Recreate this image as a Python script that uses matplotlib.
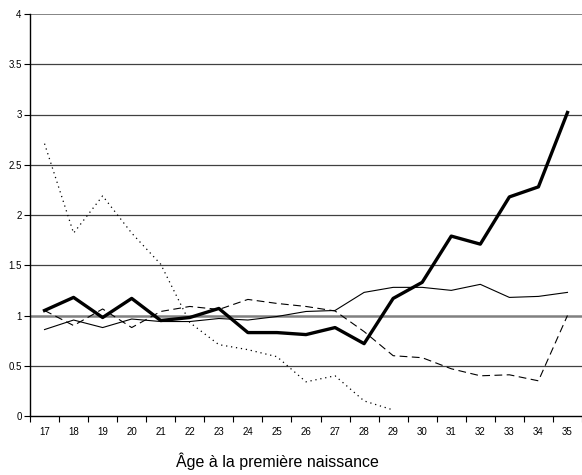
import numpy as np
import matplotlib.pyplot as plt
from matplotlib.ticker import FixedLocator

plt.rcParams['font.family'] = ['Liberation Sans', 'DejaVu Sans']

ages = list(range(17, 36))
thick = [1.05, 1.18, 0.98, 1.17, 0.95, 0.98, 1.07, 0.83, 0.83, 0.81, 0.88, 0.72,
         1.17, 1.33, 1.79, 1.71, 2.18, 2.28, 3.02]
thin = [0.86, 0.955, 0.88, 0.965, 0.94, 0.94, 0.97, 0.955, 0.99, 1.04, 1.05, 1.23,
        1.28, 1.28, 1.25, 1.31, 1.18, 1.19, 1.23]
dashed = [1.05, 0.90, 1.065, 0.88, 1.04, 1.09, 1.06, 1.16, 1.12, 1.09, 1.045, 0.84,
          0.60, 0.58, 0.47, 0.40, 0.41, 0.35, 1.00]
dotted_ages = list(range(17, 30))
dotted = [2.71, 1.82, 2.19, 1.82, 1.51, 0.93, 0.71, 0.66, 0.59, 0.34, 0.40, 0.15, 0.06]

fig = plt.figure(figsize=(5.82, 4.75), dpi=100)
ax = fig.add_axes([30/582, 1-416/475, 552/582, 402/475])

# horizontal grid
for y in np.arange(0.5, 4.01, 0.5):
    if y == 1:
        ax.axhline(y, color='#808080', lw=1.8, zorder=1)
    elif y == 4:
        ax.axhline(y, color='#707070', lw=1.2, zorder=1)
    else:
        ax.axhline(y, color='#404040', lw=0.9, zorder=1)

ax.plot(ages, thin, color='black', lw=0.8, zorder=3)
ax.plot(ages, dashed, color='black', lw=0.8, dashes=(7, 4), zorder=3)
ax.plot(dotted_ages, dotted, color='black', lw=0.9, dashes=(1, 3), zorder=3)
ax.plot(ages, thick, color='black', lw=2.4, zorder=4)

ax.set_xlim(16.5, 35.5)
ax.set_ylim(0, 4)
ax.set_yticks(np.arange(0, 4.01, 0.5))
ax.set_yticklabels(['0', '0.5', '1', '1.5', '2', '2.5', '3', '3.5', '4'])
ax.xaxis.set_major_locator(FixedLocator([a + 0.5 for a in range(16, 36)]))
ax.xaxis.set_minor_locator(FixedLocator(ages))
ax.set_xticklabels([])
ax.set_xticklabels([str(a) for a in ages], minor=True)
ax.tick_params(axis='x', which='major', length=4, width=0.8, direction='out')
ax.tick_params(axis='x', which='minor', length=0, labelsize=7, pad=8)
ax.tick_params(axis='y', length=4, width=0.8, labelsize=7, pad=2)

for s in ['top', 'right']:
    ax.spines[s].set_visible(False)
ax.spines['left'].set_linewidth(1.0)
ax.spines['bottom'].set_linewidth(1.0)

fig.text(277/582, 1-461/475, 'Âge à la première naissance', ha='center', va='center', fontsize=11.5)

fig.savefig('out.png', dpi=100)
